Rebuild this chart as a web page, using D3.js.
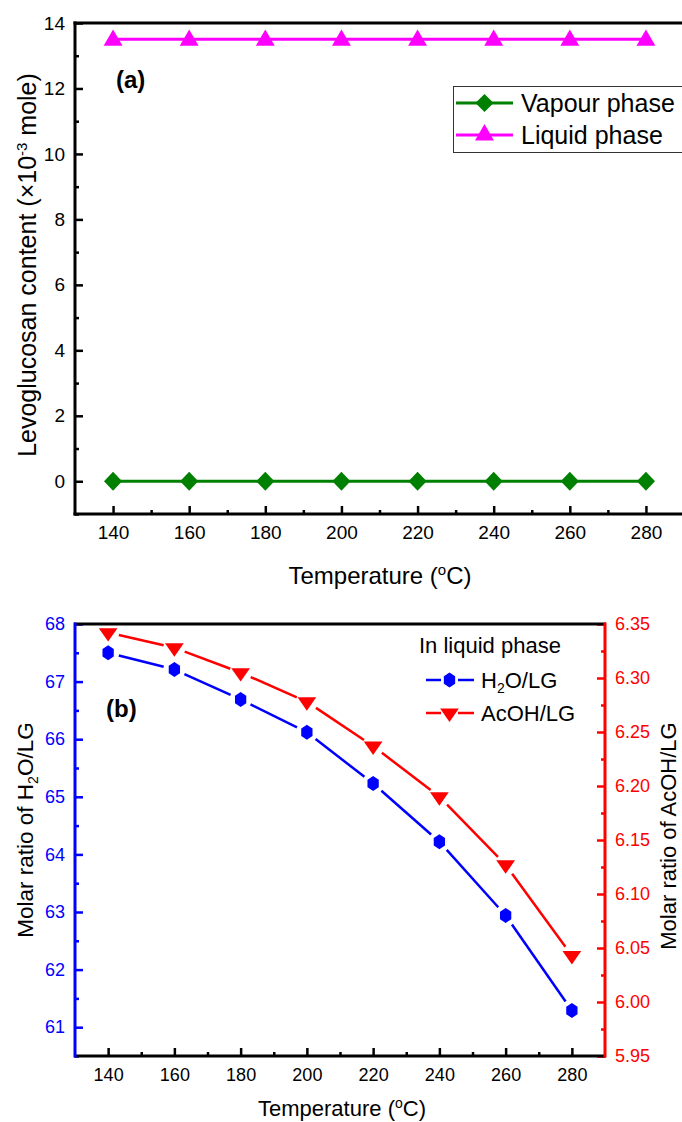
<!DOCTYPE html>
<html>
<head>
<meta charset="utf-8">
<script src="https://cdn.jsdelivr.net/npm/d3@7/dist/d3.min.js"></script>
<style>
  body { margin: 0; background: #fff; }
  svg { display: block; font-family: "Liberation Sans", Arial, sans-serif; }
</style>
</head>
<body>
<svg id="chart" width="682" height="1122"></svg>
<script>
// ---------- data ----------
const temperatures = [140, 160, 180, 200, 220, 240, 260, 280];
const vapourPhase = [0, 0, 0, 0, 0, 0, 0, 0];
const liquidPhase = [13.5, 13.5, 13.5, 13.5, 13.5, 13.5, 13.5, 13.5];
const h2oRatio = [67.50, 67.21, 66.69, 66.12, 65.23, 64.22, 62.94, 61.29];
const acohRatio = [6.342, 6.328, 6.305, 6.278, 6.237, 6.190, 6.127, 6.043];
const xTicks = [140, 160, 180, 200, 220, 240, 260, 280];
const yTicksA = [0, 2, 4, 6, 8, 10, 12, 14];
const yTicksBLeft = [61, 62, 63, 64, 65, 66, 67, 68];
const yTicksBRight = [5.95, 6.00, 6.05, 6.10, 6.15, 6.20, 6.25, 6.30, 6.35];

const svg = d3.select("#chart");

// ---------- panel (a) ----------
const xa = d3.scaleLinear().domain([130, 290]).range([75, 684]);
const ya = d3.scaleLinear().domain([-1, 14]).range([514, 23]);
const ga = svg.append("g");

function styleAxis(g, color, fs) {
  g.select(".domain").remove();
  g.selectAll(".tick line").attr("stroke", color).attr("stroke-width", 2.5);
  g.selectAll(".tick text").attr("fill", color).style("font-size", fs + "px")
    .style("font-family", "Liberation Sans, Arial, sans-serif");
}

// minor ticks
ga.append("g").attr("transform", "translate(75,0)")
  .call(d3.axisLeft(ya).tickValues(d3.range(-1, 14, 2)).tickSize(-4).tickFormat(""))
  .call(g => styleAxis(g, "#000", 19));
ga.append("g").attr("transform", "translate(0,514)")
  .call(d3.axisBottom(xa).tickValues(d3.range(150, 290, 20)).tickSize(-4).tickFormat(""))
  .call(g => styleAxis(g, "#000", 19));
// major ticks
ga.append("g").attr("transform", "translate(75,0)")
  .call(d3.axisLeft(ya).tickValues(yTicksA).tickSize(-8).tickPadding(10).tickSizeOuter(0))
  .call(g => styleAxis(g, "#000", 19));
ga.append("g").attr("transform", "translate(0,514)")
  .call(d3.axisBottom(xa).tickValues(xTicks).tickSize(-8).tickPadding(12).tickSizeOuter(0))
  .call(g => styleAxis(g, "#000", 19));
// axis lines
ga.append("line").attr("x1", 75).attr("x2", 75).attr("y1", 21.5).attr("y2", 515.5).attr("stroke", "#000").attr("stroke-width", 3);
ga.append("line").attr("x1", 73.5).attr("x2", 690).attr("y1", 514).attr("y2", 514).attr("stroke", "#000").attr("stroke-width", 3);
ga.append("line").attr("x1", 73.5).attr("x2", 690).attr("y1", 23).attr("y2", 23).attr("stroke", "#000").attr("stroke-width", 3);

const lineA = d3.line().x((d, i) => xa(temperatures[i])).y(d => ya(d));
ga.append("path").datum(vapourPhase).attr("d", lineA).attr("fill", "none").attr("stroke", "#008000").attr("stroke-width", 3);
ga.append("path").datum(liquidPhase).attr("d", lineA).attr("fill", "none").attr("stroke", "#FF00FF").attr("stroke-width", 3);

const diamond = d3.symbol().type(d3.symbolDiamond2).size(210);
const triUp = d3.symbol().type(d3.symbolTriangle).size(155);
ga.selectAll(".vm").data(vapourPhase).join("path")
  .attr("transform", (d, i) => `translate(${xa(temperatures[i])},${ya(d)}) scale(1,1.05)`)
  .attr("d", diamond).attr("fill", "#008000");
ga.selectAll(".lm").data(liquidPhase).join("path")
  .attr("transform", (d, i) => `translate(${xa(temperatures[i])},${ya(d) + 1})`)
  .attr("d", triUp).attr("fill", "#FF00FF");

// (a) label
ga.append("text").attr("x", 116).attr("y", 88).style("font-size", "24px").style("font-weight", "bold").text("(a)");

// legend a
ga.append("rect").attr("x", 453.5).attr("y", 86.5).attr("width", 232).attr("height", 66)
  .attr("fill", "#fff").attr("stroke", "#333").attr("stroke-width", 1);
[["Vapour phase", "#008000", diamond, 103], ["Liquid phase", "#FF00FF", triUp, 135]].forEach(([t, c, sym, y]) => {
  ga.append("line").attr("x1", 456).attr("x2", 513).attr("y1", y).attr("y2", y).attr("stroke", c).attr("stroke-width", 3);
  ga.append("path").attr("transform", `translate(484.5,${y})`).attr("d", sym).attr("fill", c);
  ga.append("text").attr("x", 521).attr("y", y + 9).style("font-size", "25px").text(t);
});

// titles a
const xtA = ga.append("text").attr("x", 380).attr("y", 584).attr("text-anchor", "middle").style("font-size", "24px");
xtA.append("tspan").text("Temperature (");
xtA.append("tspan").attr("dy", -9).style("font-size", "15px").text("o");
xtA.append("tspan").attr("dy", 9).text("C)");

const ytA = ga.append("text").attr("transform", "translate(36,265) rotate(-90)").attr("text-anchor", "middle").style("font-size", "25px");
ytA.append("tspan").text("Levoglucosan content (\u00D710");
ytA.append("tspan").attr("dy", -9).style("font-size", "15px").text("-3");
ytA.append("tspan").attr("dy", 9).text(" mole)");

// ---------- panel (b) ----------
const xb = d3.scaleLinear().domain([130, 290]).range([75, 605]);
const ybL = d3.scaleLinear().domain([60.5, 68]).range([1056, 624]);
const ybR = d3.scaleLinear().domain([5.95, 6.35]).range([1056, 624]);
const gb = svg.append("g");
const BLUE = "#0000FF", RED = "#FF0000";

gb.append("g").attr("transform", "translate(75,0)")
  .call(d3.axisLeft(ybL).tickValues(d3.range(60.5, 68, 1)).tickSize(-4).tickFormat(""))
  .call(g => styleAxis(g, BLUE, 18));
gb.append("g").attr("transform", "translate(605,0)")
  .call(d3.axisRight(ybR).tickValues(d3.range(0, 8).map(i => 5.975 + i * 0.05)).tickSize(-4).tickFormat(""))
  .call(g => styleAxis(g, RED, 18));
gb.append("g").attr("transform", "translate(0,1056)")
  .call(d3.axisBottom(xb).tickValues(d3.range(150, 290, 20)).tickSize(-4).tickFormat(""))
  .call(g => styleAxis(g, "#000", 18));

gb.append("g").attr("transform", "translate(75,0)")
  .call(d3.axisLeft(ybL).tickValues(yTicksBLeft).tickSize(-8).tickPadding(10).tickSizeOuter(0))
  .call(g => styleAxis(g, BLUE, 18));
gb.append("g").attr("transform", "translate(605,0)")
  .call(d3.axisRight(ybR).tickValues(yTicksBRight).tickSize(-8).tickPadding(10).tickSizeOuter(0).tickFormat(d3.format(".2f")))
  .call(g => styleAxis(g, RED, 18));
gb.append("g").attr("transform", "translate(0,1056)")
  .call(d3.axisBottom(xb).tickValues(xTicks).tickSize(-8).tickPadding(12).tickSizeOuter(0))
  .call(g => styleAxis(g, "#000", 18));

gb.append("line").attr("x1", 74).attr("x2", 606).attr("y1", 624).attr("y2", 624).attr("stroke", "#000").attr("stroke-width", 3);
gb.append("line").attr("x1", 74).attr("x2", 606).attr("y1", 1056).attr("y2", 1056).attr("stroke", "#000").attr("stroke-width", 3);
gb.append("line").attr("x1", 75).attr("x2", 75).attr("y1", 622.5).attr("y2", 1057.5).attr("stroke", BLUE).attr("stroke-width", 3);
gb.append("line").attr("x1", 605).attr("x2", 605).attr("y1", 622.5).attr("y2", 1057.5).attr("stroke", RED).attr("stroke-width", 3);

function gappedSegments(pts, gap) {
  const segs = [];
  for (let i = 0; i < pts.length - 1; i++) {
    const [x1, y1] = pts[i], [x2, y2] = pts[i + 1];
    const dx = x2 - x1, dy = y2 - y1, L = Math.hypot(dx, dy);
    const ux = dx / L, uy = dy / L;
    segs.push([[x1 + ux * gap, y1 + uy * gap], [x2 - ux * gap, y2 - uy * gap]]);
  }
  return segs;
}
const h2oPts = h2oRatio.map((v, i) => [xb(temperatures[i]), ybL(v)]);
const acohPts = acohRatio.map((v, i) => [xb(temperatures[i]), ybR(v)]);
const seg = d3.line();
gb.selectAll(".hs").data(gappedSegments(h2oPts, 11)).join("path").attr("d", seg)
  .attr("stroke", BLUE).attr("stroke-width", 2.5).attr("fill", "none");
gb.selectAll(".as").data(gappedSegments(acohPts, 11)).join("path").attr("d", seg)
  .attr("stroke", RED).attr("stroke-width", 2.5).attr("fill", "none");

function hexPath(r) {
  const p = d3.path();
  for (let k = 0; k < 6; k++) {
    const a = Math.PI / 2 + k * Math.PI / 3;
    const x = r * 0.87 * Math.cos(a), y = r * Math.sin(a);
    if (k === 0) p.moveTo(x, y); else p.lineTo(x, y);
  }
  p.closePath();
  return p.toString();
}
const hex = hexPath(7.5);
const triDown = d3.symbol().type(d3.symbolTriangle).size(115);
gb.selectAll(".hm").data(h2oPts).join("path")
  .attr("transform", d => `translate(${d[0]},${d[1]})`).attr("d", hex).attr("fill", BLUE);
gb.selectAll(".am").data(acohPts).join("path")
  .attr("transform", d => `translate(${d[0]},${d[1]}) rotate(180) scale(1.15,0.95)`).attr("d", triDown).attr("fill", RED);

gb.append("text").attr("x", 106).attr("y", 717).style("font-size", "24px").style("font-weight", "bold").text("(b)");

// legend b
gb.append("text").attr("x", 419).attr("y", 653).style("font-size", "22px").text("In liquid phase");
[[BLUE, "h", 680], [RED, "a", 713]].forEach(([c, k, y]) => {
  gb.append("line").attr("x1", 426).attr("x2", 441).attr("y1", y).attr("y2", y).attr("stroke", c).attr("stroke-width", 2.5);
  gb.append("line").attr("x1", 458).attr("x2", 474).attr("y1", y).attr("y2", y).attr("stroke", c).attr("stroke-width", 2.5);
  if (k === "h") gb.append("path").attr("transform", `translate(449.5,${y})`).attr("d", hex).attr("fill", c);
  else gb.append("path").attr("transform", `translate(449.5,${y}) rotate(180) scale(1.15,0.95)`).attr("d", triDown).attr("fill", c);
});
const lh = gb.append("text").attr("x", 481).attr("y", 688).style("font-size", "22px");
lh.append("tspan").text("H");
lh.append("tspan").attr("dy", 5).style("font-size", "14px").text("2");
lh.append("tspan").attr("dy", -5).text("O/LG");
gb.append("text").attr("x", 481).attr("y", 721).style("font-size", "22px").text("AcOH/LG");

// titles b
const xtB = gb.append("text").attr("x", 342).attr("y", 1116).attr("text-anchor", "middle").style("font-size", "22px");
xtB.append("tspan").text("Temperature (");
xtB.append("tspan").attr("dy", -8).style("font-size", "14px").text("o");
xtB.append("tspan").attr("dy", 8).text("C)");

const ytBL = gb.append("text").attr("transform", "translate(33,830) rotate(-90)").attr("text-anchor", "middle").style("font-size", "22.5px");
ytBL.append("tspan").text("Molar ratio of H");
ytBL.append("tspan").attr("dy", 5).style("font-size", "14px").text("2");
ytBL.append("tspan").attr("dy", -5).text("O/LG");

gb.append("text").attr("transform", "translate(676,836) rotate(-90)").attr("text-anchor", "middle").style("font-size", "22px")
  .text("Molar ratio of AcOH/LG");
</script>
</body>
</html>
